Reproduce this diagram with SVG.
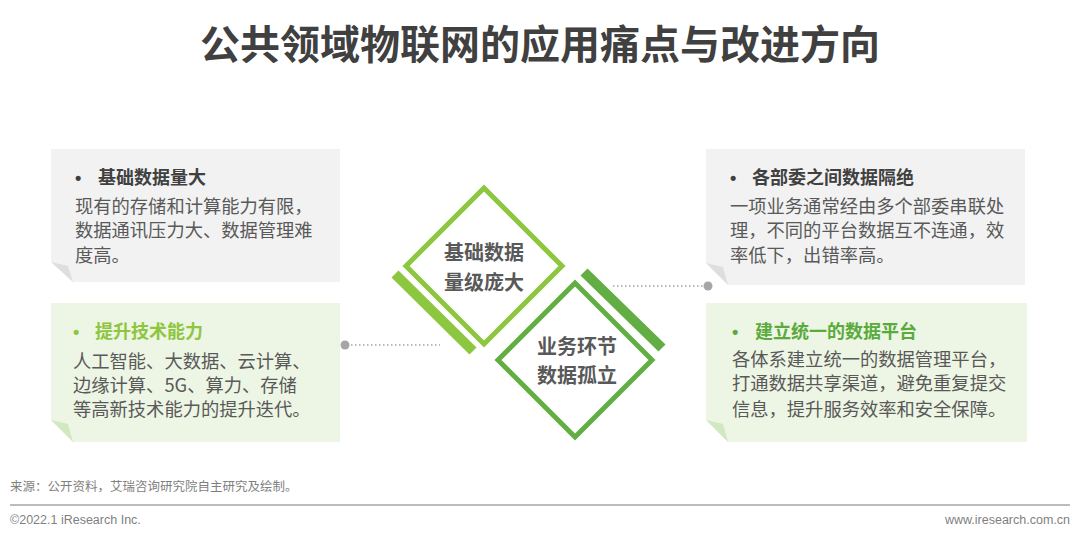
<svg xmlns="http://www.w3.org/2000/svg" width="1080" height="539" viewBox="0 0 1080 539">
<style>
text{font-family:"Noto Sans CJK SC","Noto Sans",sans-serif}
.title{font-size:40px;font-weight:700;fill:#404040}
.hd{font-size:18px;font-weight:700}
.bul{font-family:"Liberation Sans",sans-serif;font-size:18px;font-weight:700}
.hg{fill:#404040}
.hl{fill:#8dc63f}
.hd2{fill:#5aab3c}
.body{font-size:18.3px;fill:#595959}
.dia{font-size:20px;font-weight:700;fill:#595959;text-anchor:middle}
.gray{fill:#f2f2f2}
.green{fill:#edf5e4}
.fg{fill:#dedede}
.fgr{fill:#d2e8c0}
.foot{font-family:"Liberation Sans","Noto Sans CJK SC",sans-serif;font-size:12.5px;fill:#7f7f7f}
.dot{stroke:#a6a6a6;stroke-width:1.5;stroke-dasharray:1.5 2.5;fill:none}
</style>
<rect width="1080" height="539" fill="#ffffff"/>
<text class="title" x="540" y="59" text-anchor="middle">公共领域物联网的应用痛点与改进方向</text>

<g id="box-left-top">
<path class="gray" d="M51,149 H340 V282 H73 L51,262 Z"/>
<path class="fg" d="M51,262 L68,266 L73,282 Z"/>
<text class="bul hg" x="75" y="184">•</text>
<text class="hd hg" x="98" y="184">基础数据量大</text>
<text class="body" x="75" y="213">现有的存储和计算能力有限，</text>
<text class="body" x="75" y="237">数据通讯压力大、数据管理难</text>
<text class="body" x="75" y="262">度高。</text>
</g>

<g id="box-left-bottom">
<path class="green" d="M51,303 H340 V442 H73 L51,420 Z"/>
<path class="fgr" d="M51,420 L68,424 L73,442 Z"/>
<text class="bul hl" x="73" y="338">•</text>
<text class="hd hl" x="95" y="338">提升技术能力</text>
<text class="body" x="73" y="368">人工智能、大数据、云计算、</text>
<text class="body" x="73" y="392">边缘计算、5G、算力、存储</text>
<text class="body" x="73" y="416">等高新技术能力的提升迭代。</text>
</g>

<g id="box-right-top">
<path class="gray" d="M706,149 H1025 V285 H728 L706,263 Z"/>
<path class="fg" d="M706,263 L723,267 L728,285 Z"/>
<text class="bul hg" x="730" y="184">•</text>
<text class="hd hg" x="752" y="184">各部委之间数据隔绝</text>
<text class="body" x="730" y="213">一项业务通常经由多个部委串联处</text>
<text class="body" x="730" y="237">理，不同的平台数据互不连通，效</text>
<text class="body" x="730" y="262">率低下，出错率高。</text>
</g>

<g id="box-right-bottom">
<path class="green" d="M706,303 H1027 V442 H728 L706,420 Z"/>
<path class="fgr" d="M706,420 L723,424 L728,442 Z"/>
<text class="bul hd2" x="732" y="338">•</text>
<text class="hd hd2" x="755" y="338">建立统一的数据平台</text>
<text class="body" x="732" y="366">各体系建立统一的数据管理平台，</text>
<text class="body" x="732" y="390">打通数据共享渠道，避免重复提交</text>
<text class="body" x="732" y="416">信息，提升服务效率和安全保障。</text>
</g>

<g id="diamond-top">
<line x1="395" y1="274" x2="473" y2="351" stroke="#8dc63f" stroke-width="10"/>
<polygon points="484,188 562,266 484,344 406,266" fill="#ffffff" stroke="#8dc63f" stroke-width="5"/>
<text class="dia" x="484" y="260">基础数据</text>
<text class="dia" x="484" y="290">量级庞大</text>
</g>

<g id="diamond-bottom">
<line x1="584" y1="272" x2="662" y2="348" stroke="#62ad44" stroke-width="10"/>
<polygon points="575,283 652,360 575,437 498,360" fill="#ffffff" stroke="#62ad44" stroke-width="5"/>
<text class="dia" x="577" y="354">业务环节</text>
<text class="dia" x="577" y="383">数据孤立</text>
</g>

<g id="connectors">
<circle cx="345" cy="345" r="4.5" fill="#a6a6a6"/>
<line class="dot" x1="351" y1="345" x2="440" y2="345"/>
<line class="dot" x1="613" y1="286" x2="703" y2="286"/>
<circle cx="708" cy="286" r="4.5" fill="#a6a6a6"/>
</g>

<g id="footer">
<text class="foot" x="10" y="491">来源：公开资料，艾瑞咨询研究院自主研究及绘制。</text>
<line x1="10" y1="505" x2="1070" y2="505" stroke="#a6a6a6" stroke-width="1.5"/>
<text class="foot" x="10" y="524">©2022.1 iResearch Inc.</text>
<text class="foot" x="1070" y="524" text-anchor="end">www.iresearch.com.cn</text>
</g>
</svg>
